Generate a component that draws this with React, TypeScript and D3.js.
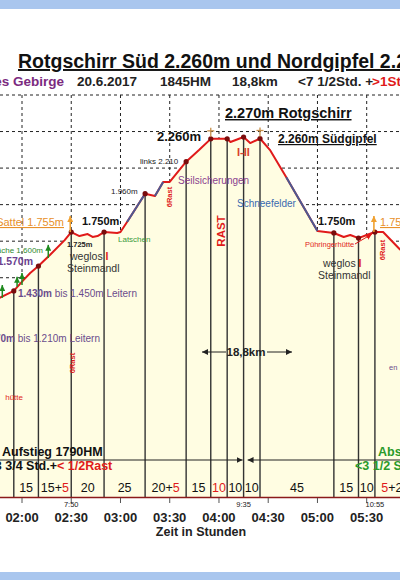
import React from 'react';
import * as d3 from 'd3';

// profile: elapsed time (minutes, chart clock) and elevation (m)
const profileTime = [104, 115, 121, 125, 130, 137, 146, 150, 155, 160, 163, 166, 170, 178, 180, 184, 195, 201, 206, 210, 220, 228, 235, 245, 247, 255, 259, 265, 271, 279, 281, 300, 310, 316, 320, 325, 330, 335, 340, 350, 357];
const profileElev = [1380, 1428, 1488, 1526, 1564, 1624, 1706, 1750, 1728, 1739, 1723, 1728, 1750, 1745, 1750, 1805, 1960, 1947, 2024, 2024, 2135, 2200, 2260, 2260, 2243, 2270, 2237, 2262, 2200, 2080, 2050, 1756, 1745, 1723, 1734, 1717, 1734, 1750, 1750, 1657, 1608];

// parts of the route drawn in blue-grey
const blueRanges = [[184, 195], [201, 206], [281, 300]];

// stops (dots + vertical lines)
const stopTimes = [115, 130, 150, 170, 195, 220, 235, 245, 255, 265, 310, 325, 335];

// minutes between stops, [text, red?]
const segLabels: [string, boolean][][] = [
  [['15', false]],
  [['15+', false], ['5', true]],
  [['20', false]],
  [['25', false]],
  [['20+', false], ['5', true]],
  [['15', false]],
  [['10', true]],
  [['10', false]],
  [['10', false]],
  [['45', false]],
  [['15', false]],
  [['10', false]],
  [['5', true], ['+20', false]],
];
const lastSegEnd = 360;

const tickTimes = [120, 150, 180, 210, 240, 270, 300, 330];
const tickLabels = ['02:00', '02:30', '03:00', '03:30', '04:00', '04:30', '05:00', '05:30'];
const gridElev = [2500, 2300, 2100, 1900, 1700, 1500, 1300];

const clockTimes = [150, 255, 335];
const clockLabels = ['7:50', '9:35', '10:55'];

const summitTimes = [235, 265];
const sattelTimes = [150, 335];
// green arrows: time, from elevation, to elevation
const greenArrows = [[108, 1390, 1460], [117, 1450, 1505], [120, 1460, 1526], [136, 1608, 1680]];

const F = "'Liberation Sans', Arial, sans-serif";

export default function App() {
  const x = d3.scaleLinear().domain([120, 330]).range([22, 366.7]);
  const y = d3.scaleLinear().domain([300, 2500]).range([497, 95]);
  const elevAt = d3.scaleLinear().domain(profileTime).range(profileElev);

  const pts = profileTime.map((t, i) => [t, profileElev[i]] as [number, number]);
  const line = d3.line<[number, number]>().x(d => x(d[0])).y(d => y(d[1]));
  const area = d3.area<[number, number]>().x(d => x(d[0])).y0(y(300)).y1(d => y(d[1]));

  const segEnds = [...stopTimes.slice(1), lastSegEnd];
  const red = '#e01a1a';
  const axisY = y(300);

  return (
    <div style={{ position: 'fixed', left: 0, top: 0 }}>
      <svg width={400} height={580} style={{ display: 'block', background: '#fff' }} fontFamily={F}>
        <defs>
          {[['aBlack', '#222'], ['aGreen', '#1f8a1f'], ['aOrange', '#f0a030'], ['aRed', red]].map(([id, c]) => (
            <marker key={id} id={id} viewBox="0 0 6 6" refX={6} refY={3} markerWidth={6} markerHeight={6}
              markerUnits="userSpaceOnUse" orient="auto">
              <path d="M0,0L6,3L0,6z" fill={c} />
            </marker>
          ))}
        </defs>

        <rect x={0} y={0} width={400} height={9} fill="#a9c6ee" />
        <rect x={0} y={572} width={400} height={8} fill="#a9c6ee" />

        {/* title */}
        <text x={18} y={68} fontSize={19.5} fontWeight="bold" fill="#111" textDecoration="underline">
          Rotgschirr Süd 2.260m und Nordgipfel 2.270m
        </text>
        <g fontSize={13.5} fontWeight="bold" fill="#222">
          <text x={64} y={86} textAnchor="end" fill="#7b2a80">Totes Gebirge</text>
          <text x={77} y={86}>20.6.2017</text>
          <text x={160} y={86}>1845HM</text>
          <text x={232} y={86}>18,8km</text>
          <text x={298} y={86}>{'<7 1/2Std. +'}</text>
          <text x={372} y={86} fill={red}>{'>1Std.Rast'}</text>
        </g>

        {/* dashed grid */}
        <g stroke="#222" strokeWidth={1} strokeDasharray="3,3">
          {tickTimes.map(t => <line key={'v' + t} x1={x(t)} x2={x(t)} y1={y(2500)} y2={axisY} />)}
          {gridElev.map(e => <line key={'h' + e} x1={0} x2={400} y1={y(e)} y2={y(e)} />)}
        </g>

        {/* fill under profile */}
        <path d={area(pts) || ''} fill="#fffde2" />

        {/* vertical stop lines */}
        <g stroke="#333" strokeWidth={1.4}>
          {stopTimes.map(t => <line key={t} x1={x(t)} x2={x(t)} y1={y(elevAt(t))} y2={axisY} />)}
        </g>

        {/* ascent / descent line */}
        <line x1={0} x2={x(255) - 1} y1={460} y2={460} stroke="#222" strokeWidth={1} markerEnd="url(#aBlack)" />
        <line x1={400} x2={x(255) + 4} y1={460} y2={460} stroke="#222" strokeWidth={1} markerEnd="url(#aBlack)" />

        {/* segment minutes */}
        <g fontSize={12.5} textAnchor="middle">
          {segLabels.map((parts, i) => (
            <text key={i} x={(x(stopTimes[i]) + x(segEnds[i])) / 2} y={492}>
              {parts.map(([s, r], j) => <tspan key={j} fill={r ? red : '#111'}>{s}</tspan>)}
            </text>
          ))}
        </g>

        {/* x axis */}
        <line x1={0} x2={400} y1={axisY + 0.5} y2={axisY + 0.5} stroke="#8b1a1a" strokeWidth={1.6} />
        <g stroke="#555" strokeWidth={1}>
          {tickTimes.map(t => <line key={t} x1={x(t)} x2={x(t)} y1={axisY + 1} y2={axisY + 6} />)}
        </g>
        <g fontSize={13} fontWeight="bold" fill="#222" textAnchor="middle">
          {tickTimes.map((t, i) => <text key={t} x={x(t)} y={522}>{tickLabels[i]}</text>)}
        </g>
        <text x={201} y={536} fontSize={12.5} fontWeight="bold" fill="#222" textAnchor="middle">Zeit in Stunden</text>
        <g fontSize={7.5} fill="#222" textAnchor="middle">
          {clockTimes.map((t, i) => <text key={t} x={x(t)} y={507}>{clockLabels[i]}</text>)}
        </g>

        {/* profile */}
        <path d={line(pts) || ''} fill="none" stroke={red} strokeWidth={2} strokeLinejoin="round" />
        {blueRanges.map(([a, b]) => (
          <path key={a} d={line(pts.filter(p => p[0] >= a && p[0] <= b)) || ''} fill="none" stroke="#4c5a92" strokeWidth={2} />
        ))}
        {stopTimes.map(t => <circle key={t} cx={x(t)} cy={y(elevAt(t))} r={2.6} fill="#7a0c0c" />)}

        {/* summit crosses */}
        {summitTimes.map(t => {
          const cx = x(t), cy = y(elevAt(t));
          return (
            <g key={t} stroke="#c8904a" strokeWidth={1.3}>
              <line x1={cx} x2={cx} y1={cy - 11} y2={cy - 2} />
              <line x1={cx - 3.5} x2={cx + 3.5} y1={cy - 8} y2={cy - 8} />
            </g>
          );
        })}
        {/* Sattel arrows */}
        {sattelTimes.map(t => (
          <line key={t} x1={x(t) - 1} x2={x(t) - 1} y1={y(elevAt(t))} y2={y(elevAt(t)) - 16}
            stroke="#f0a030" strokeWidth={1.6} markerEnd="url(#aOrange)" />
        ))}
        {greenArrows.map(([t, e0, e1]) => (
          <line key={t} x1={x(t)} x2={x(t)} y1={y(e0)} y2={y(e1)} stroke="#1f8a1f" strokeWidth={1.5} markerEnd="url(#aGreen)" />
        ))}

        {/* top labels */}
        <text x={225} y={118} fontSize={14.5} fontWeight="bold" fill="#111" textDecoration="underline">2.270m Rotgschirr</text>
        <text x={278} y={143} fontSize={12} fontWeight="bold" fill="#111" textDecoration="underline">2.260m Südgipfel</text>
        <text x={157} y={141} fontSize={13} fontWeight="bold" fill="#111">2.260m</text>
        <text x={140} y={164} fontSize={8} fill="#222">links 2.210</text>
        <text x={111} y={194} fontSize={8} fill="#222">1.960m</text>
        <text x={178} y={184} fontSize={10} fill="#8a3f8f">Seilsicherungen</text>
        <text x={237} y={156} fontSize={11} fontWeight="bold" fill="#d8402a">I-II</text>
        <text x={237} y={207} fontSize={10} fill="#3a6ab0">Schneefelder</text>
        <text transform="translate(221,231) rotate(-90)" fontSize={11.5} fontWeight="bold" fill={red}
          textAnchor="middle" dominantBaseline="central">RAST</text>
        <text transform="translate(169,197) rotate(-90)" fontSize={7.5} fontWeight="bold" fill={red}
          textAnchor="middle" dominantBaseline="central">6Rast</text>
        <text transform="translate(72,363) rotate(-90)" fontSize={7.5} fontWeight="bold" fill={red}
          textAnchor="middle" dominantBaseline="central">6Rast</text>
        <text transform="translate(382,250) rotate(-90)" fontSize={7.5} fontWeight="bold" fill={red}
          textAnchor="middle" dominantBaseline="central">6Rast</text>

        {/* left labels */}
        <text x={82} y={225} fontSize={11} fontWeight="bold" fill="#111">1.750m</text>
        <text x={64} y={226} fontSize={11} fill="#e8902a" textAnchor="end" textDecoration="underline">Sattel 1.755m</text>
        <text x={67} y={247} fontSize={7.5} fontWeight="bold" fill="#222">1.725m</text>
        <text x={118} y={242} fontSize={8} fill="#3c9a3c">Latschen</text>
        <text x={70} y={260} fontSize={10.5} fill="#333">weglos <tspan fill={red} fontWeight="bold">I</tspan></text>
        <text x={67} y={272} fontSize={10.5} fill="#333">Steinmandl</text>
        <text x={43} y={253} fontSize={8} fill="#2f8a2f" textAnchor="end">Fläche 1.600m</text>
        <text x={33} y={265} fontSize={10.5} fontWeight="bold" fill="#6b3f8f" textAnchor="end">1.570m</text>
        <text x={18} y={297} fontSize={10} fill="#6b4c8c">
          <tspan fontWeight="bold">1.430m</tspan> bis 1.450m Leitern
        </text>
        <text x={100} y={342} fontSize={10} fill="#6b4c8c" textAnchor="end">
          <tspan fontWeight="bold">1.170m</tspan> bis 1.210m Leitern
        </text>
        <text x={23} y={400} fontSize={8} fill={red} textAnchor="end">hütte</text>

        {/* right labels */}
        <text x={318} y={225} fontSize={11} fontWeight="bold" fill="#111">1.750m</text>
        <text x={380} y={226} fontSize={11} fill="#e8902a" textDecoration="underline">1.755m Sattel</text>
        <text x={305} y={247} fontSize={7.5} fill={red}>Pühringerhütte</text>
        <line x1={355} y1={244} x2={x(335) - 3} y2={y(elevAt(335)) + 2} stroke={red} strokeWidth={1} markerEnd="url(#aRed)" />
        <text x={323} y={267} fontSize={10.5} fill="#333">weglos <tspan fill={red} fontWeight="bold">I</tspan></text>
        <text x={318} y={279} fontSize={10.5} fill="#333">Steinmandl</text>
        <text x={389} y={370} fontSize={7.5} fill="#6b4c8c">en</text>

        {/* distance */}
        <line x1={226} x2={202} y1={352} y2={352} stroke="#222" strokeWidth={1} markerEnd="url(#aBlack)" />
        <line x1={267} x2={292} y1={352} y2={352} stroke="#222" strokeWidth={1} markerEnd="url(#aBlack)" />
        <text x={246} y={356} fontSize={11.5} fontWeight="bold" fill="#222" textAnchor="middle">18,8km</text>

        {/* ascent / descent summary */}
        <text x={2} y={456} fontSize={12.5} fontWeight="bold" fill="#111">Aufstieg 1790HM</text>
        <text x={57} y={470} fontSize={12.5} fontWeight="bold" fill="#111" textAnchor="end">{'<3 3/4 Std.+'}</text>
        <text x={57} y={470} fontSize={12.5} fontWeight="bold" fill={red}>{'< 1/2Rast'}</text>
        <text x={378} y={456} fontSize={12.5} fontWeight="bold" fill="#2a9a2a">Abstieg</text>
        <text x={355} y={470} fontSize={12.5} fontWeight="bold" fill="#2a9a2a">{'<3 1/2 Std.'}</text>
      </svg>
    </div>
  );
}
